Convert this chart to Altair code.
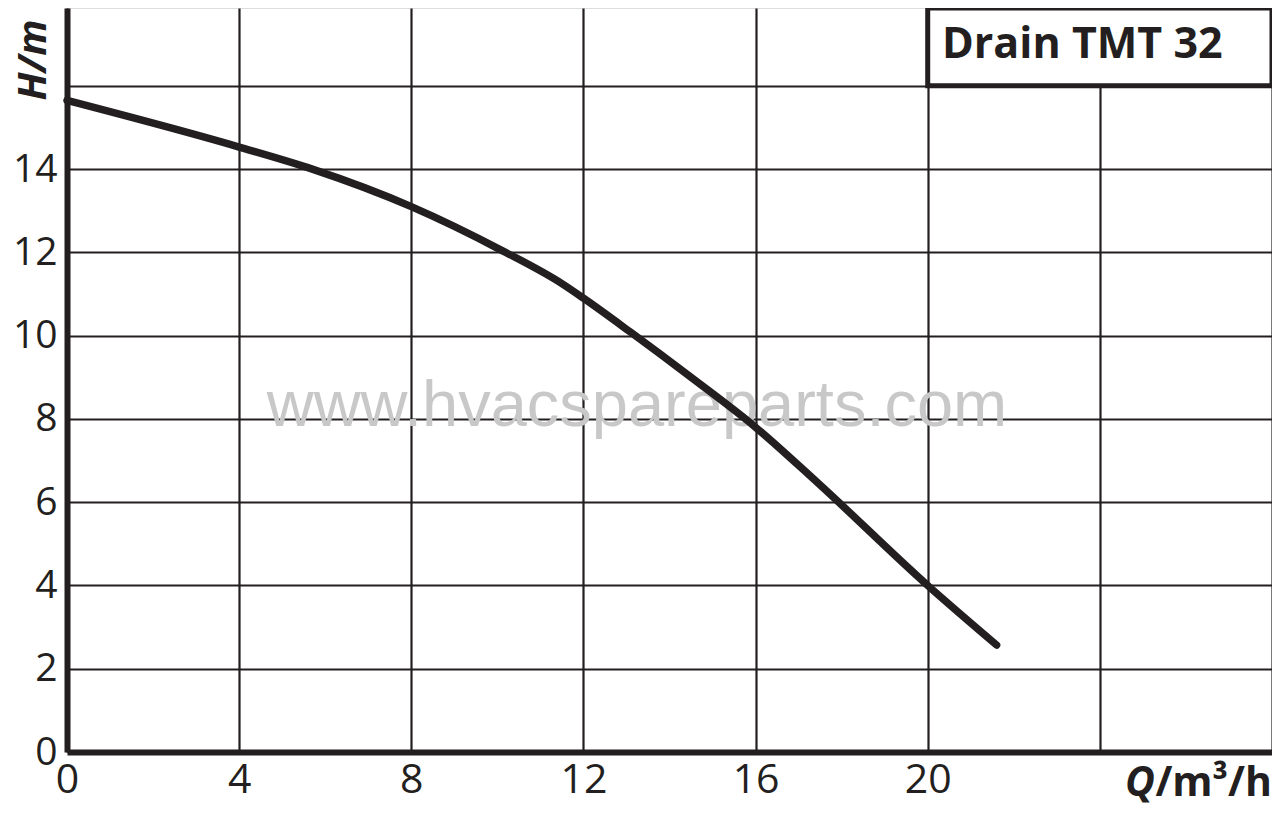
import altair as alt
import pandas as pd

# Pump curve data (Q in m³/h, H in m)
q_values = [0, 4, 5.7, 8, 10.1, 11.5, 12, 13.1, 14.5, 16, 17.45, 20, 21.6]
h_values = [15.65, 14.53, 14.0, 13.1, 12.05, 11.25, 10.9, 10.08, 9.0, 7.8, 6.46, 4.0, 2.57]

x_ticks = [0, 4, 8, 12, 16, 20, 24, 28]
y_ticks = [0, 2, 4, 6, 8, 10, 12, 14, 16]
x_domain = [0, 28]
y_domain = [0, 17.87]

title_text = "Drain TMT 32"
watermark_text = "www.hvacspareparts.com"

curve = pd.DataFrame({"Q": q_values, "H": h_values})
box = pd.DataFrame({"x": [20], "x2": [28], "y": [16], "y2": [y_domain[1]]})

FONT = "Open Sans"
INK = "#231f20"

x_enc = alt.X("Q:Q", scale=alt.Scale(domain=x_domain, nice=False, zero=False),
              axis=alt.Axis(values=x_ticks, title=None, grid=True, gridColor=INK,
                            gridWidth=2.2, gridOpacity=1, domainColor=INK, domainWidth=6,
                            ticks=False, labelFont=FONT, labelFontSize=41, labelFlush=False,
                            labelColor=INK, labelPadding=8,
                            labelExpr="datum.value <= 20 ? datum.label : ''"))
y_enc = alt.Y("H:Q", scale=alt.Scale(domain=y_domain, nice=False, zero=False),
              axis=alt.Axis(values=y_ticks, title=None, grid=True, gridColor=INK,
                            gridWidth=2.2, gridOpacity=1, domainColor=INK, domainWidth=6,
                            ticks=False, labelFont=FONT, labelFontSize=39, labelFlush=False,
                            labelColor=INK, labelPadding=10,
                            labelExpr="datum.value <= 14 ? datum.label : ''"))

watermark = alt.Chart(pd.DataFrame({"t": [watermark_text]})).mark_text(
    font="Liberation Sans", fontSize=65, color="#c8c8c8", align="center", baseline="alphabetic"
).encode(text="t:N", x=alt.value(570), y=alt.value(418))

lines = alt.Chart(curve).mark_line(
    color=INK, strokeWidth=7.5, strokeCap="round", strokeJoin="round", interpolate="monotone"
).encode(x=x_enc, y=y_enc)

rect = alt.Chart(box).mark_rect(fill="white", stroke=INK, strokeWidth=5).encode(
    x="x:Q", x2="x2:Q", y="y:Q", y2="y2:Q")

title = alt.Chart(pd.DataFrame({"t": [title_text]})).mark_text(
    font=FONT, fontSize=43, fontWeight="bold", color=INK, align="left", baseline="middle"
).encode(text="t:N", x=alt.value(875), y=alt.value(37))

q_lab = alt.Chart(pd.DataFrame({"t": ["Q"]})).mark_text(
    font=FONT, fontSize=41, fontWeight="bold", fontStyle="italic", color=INK,
    align="right", baseline="middle"
).encode(text="t:N", x=alt.value(1088), y=alt.value(776))
unit_lab = alt.Chart(pd.DataFrame({"t": ["/m³/h"]})).mark_text(
    font=FONT, fontSize=41, fontWeight="bold", color=INK, align="right", baseline="middle"
).encode(text="t:N", x=alt.value(1205), y=alt.value(776))

h_lab = alt.Chart(pd.DataFrame({"t": ["H/m"]})).mark_text(
    font=FONT, fontSize=40, fontWeight="bold", fontStyle="italic", color=INK,
    align="center", baseline="middle", angle=270
).encode(text="t:N", x=alt.value(-33), y=alt.value(52))

chart = alt.layer(watermark, lines, rect, title, q_lab, unit_lab, h_lab).properties(
    width=1205, height=744,
    autosize=alt.AutoSizeParams(type="none"),
    padding={"left": 59, "top": 0, "right": 0, "bottom": 56},
).configure_view(stroke=INK, strokeWidth=5).configure(background="white")

chart.save("out.html", embed_options={"renderer": "svg", "actions": False})
